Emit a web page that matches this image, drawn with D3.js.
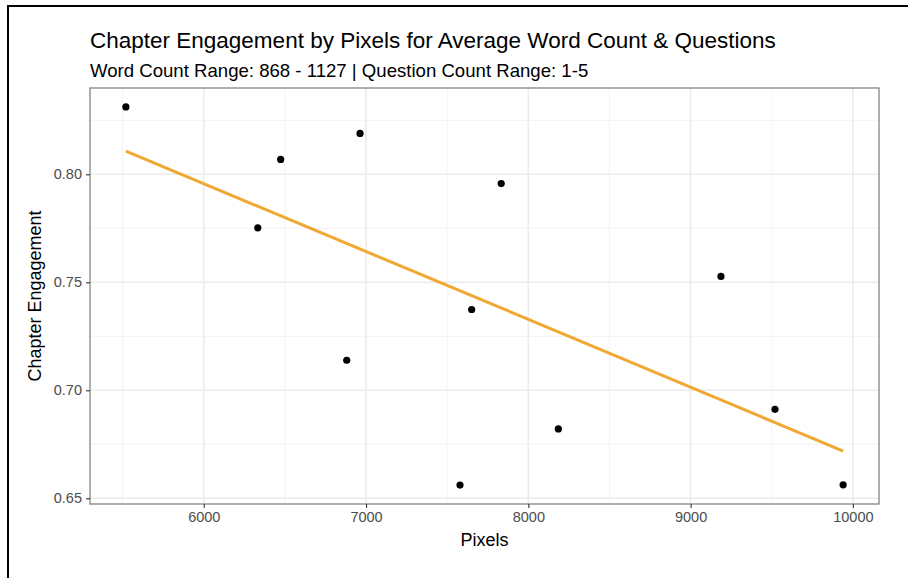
<!DOCTYPE html>
<html><head><meta charset="utf-8">
<script src="https://cdn.jsdelivr.net/npm/d3@7"></script>
<style>
html,body{margin:0;padding:0;background:#fff;}
svg{display:block;font-family:"Liberation Sans",Arial,Helvetica,sans-serif;}
</style></head>
<body>
<svg id="chart" width="908" height="578"></svg>
<script>
// ---- data ----
const pixels = [5520, 6333, 6474, 6881, 6963, 7579, 7651, 7833, 8185, 9187, 9520, 9940];
const engagement = [0.8312, 0.7752, 0.8069, 0.7139, 0.8189, 0.6561, 0.7374, 0.7957, 0.6821, 0.7527, 0.6912, 0.6562];
const xTicks = [6000, 7000, 8000, 9000, 10000];
const yTicks = [0.65, 0.70, 0.75, 0.80];
const xMinor = [5500, 6500, 7500, 8500, 9500];
const yMinor = [0.675, 0.725, 0.775, 0.825];
const titleText = "Chapter Engagement by Pixels for Average Word Count & Questions";
const subtitleText = "Word Count Range: 868 - 1127 | Question Count Range: 1-5";
const xLabel = "Pixels";
const yLabel = "Chapter Engagement";

const svg = d3.select("#chart");
const panel = {left: 90, top: 88, right: 879, bottom: 504};

// outer frame (top + left edges visible)
svg.append("rect").attr("x", 8).attr("y", 6).attr("width", 1200).attr("height", 1200)
  .attr("fill", "#fff").attr("stroke", "#000").attr("stroke-width", 2);

// scales with ggplot-like 5% expansion
const xExt = d3.extent(pixels), yExt = d3.extent(engagement);
const xPad = (xExt[1] - xExt[0]) * 0.05, yPad = (yExt[1] - yExt[0]) * 0.05;
const x = d3.scaleLinear().domain([xExt[0] - xPad, xExt[1] + xPad]).range([panel.left, panel.right]);
const y = d3.scaleLinear().domain([yExt[0] - yPad, yExt[1] + yPad]).range([panel.bottom, panel.top]);

const g = svg.append("g");
g.append("rect").attr("x", panel.left).attr("y", panel.top)
  .attr("width", panel.right - panel.left).attr("height", panel.bottom - panel.top).attr("fill", "#fff");

// minor grid
g.selectAll(".xminor").data(xMinor).join("line")
  .attr("x1", d => x(d)).attr("x2", d => x(d)).attr("y1", panel.top).attr("y2", panel.bottom)
  .attr("stroke", "#f2f2f2").attr("stroke-width", 0.9);
g.selectAll(".yminor").data(yMinor).join("line")
  .attr("y1", d => y(d)).attr("y2", d => y(d)).attr("x1", panel.left).attr("x2", panel.right)
  .attr("stroke", "#f2f2f2").attr("stroke-width", 0.9);
// major grid
g.selectAll(".xmajor").data(xTicks).join("line")
  .attr("x1", d => x(d)).attr("x2", d => x(d)).attr("y1", panel.top).attr("y2", panel.bottom)
  .attr("stroke", "#ebebeb").attr("stroke-width", 1.5);
g.selectAll(".ymajor").data(yTicks).join("line")
  .attr("y1", d => y(d)).attr("y2", d => y(d)).attr("x1", panel.left).attr("x2", panel.right)
  .attr("stroke", "#ebebeb").attr("stroke-width", 1.5);

// linear fit (geom_smooth method = lm, se = FALSE)
const mx = d3.mean(pixels), my = d3.mean(engagement);
let sxy = 0, sxx = 0;
pixels.forEach((v, i) => { sxy += (v - mx) * (engagement[i] - my); sxx += (v - mx) * (v - mx); });
const slope = sxy / sxx, intercept = my - slope * mx;
const fit = xExt.map(v => [v, intercept + slope * v]);
g.append("path").datum(fit)
  .attr("d", d3.line().x(d => x(d[0])).y(d => y(d[1])))
  .attr("fill", "none").attr("stroke", "#f0a833").attr("stroke-width", 3);

// points
g.selectAll(".pt").data(pixels.map((v, i) => [v, engagement[i]])).join("circle")
  .attr("cx", d => x(d[0])).attr("cy", d => y(d[1])).attr("r", 3.6).attr("fill", "#000");

// panel border
g.append("rect").attr("x", panel.left).attr("y", panel.top)
  .attr("width", panel.right - panel.left).attr("height", panel.bottom - panel.top)
  .attr("fill", "none").attr("stroke", "#7a7a7a").attr("stroke-width", 1.2);

// axes
const xAxis = d3.axisBottom(x).tickValues(xTicks).tickFormat(d3.format("d")).tickSize(4).tickPadding(4);
const yAxis = d3.axisLeft(y).tickValues(yTicks).tickFormat(d3.format(".2f")).tickSize(4).tickPadding(4);
const gx = svg.append("g").attr("transform", `translate(0,${panel.bottom})`).call(xAxis);
const gy = svg.append("g").attr("transform", `translate(${panel.left},0)`).call(yAxis);
[gx, gy].forEach(a => {
  a.select(".domain").remove();
  a.selectAll(".tick line").attr("stroke", "#333").attr("stroke-width", 1.1);
  a.selectAll(".tick text").attr("fill", "#4d4d4d").attr("font-size", "14.5px")
    .attr("font-family", '"Liberation Sans",Arial,Helvetica,sans-serif');
});

// titles
svg.append("text").attr("x", 90).attr("y", 48).attr("font-size", "22.5px").attr("fill", "#000").text(titleText);
svg.append("text").attr("x", 90).attr("y", 77).attr("font-size", "18.6px").attr("fill", "#000").text(subtitleText);
svg.append("text").attr("x", (panel.left + panel.right) / 2).attr("y", 546).attr("text-anchor", "middle")
  .attr("font-size", "18px").attr("fill", "#000").text(xLabel);
svg.append("text").attr("transform", `translate(41,${(panel.top + panel.bottom) / 2}) rotate(-90)`)
  .attr("text-anchor", "middle").attr("font-size", "18px").attr("fill", "#000").text(yLabel);
</script>
</body></html>
